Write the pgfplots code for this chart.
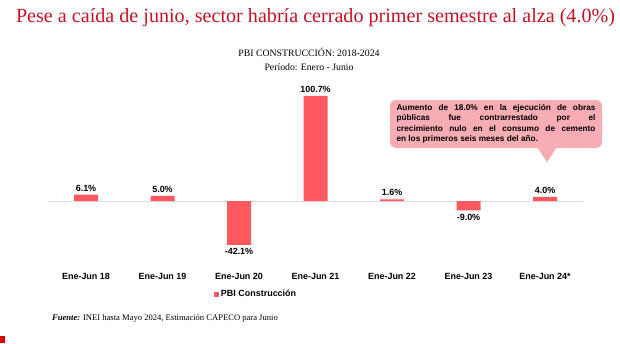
\documentclass[border=0pt]{standalone}
\usepackage{pgfplots}
\pgfplotsset{compat=1.18}
\usepackage{fontspec}
\setmainfont{Liberation Serif}
\newfontfamily\arial{Liberation Sans}
\definecolor{barred}{RGB}{255,88,94}
\definecolor{titlered}{RGB}{196,18,36}
\definecolor{callout}{RGB}{248,172,180}
\begin{document}
\begin{tikzpicture}[x=1bp,y=1bp]
\path[use as bounding box] (0,0) rectangle (620,343);
\node[titlered, font=\fontsize{20.2}{24}\selectfont] at (315.5,325) {Pese a caída de junio, sector habría cerrado primer semestre al alza (4.0\%)};
\node[font=\fontsize{9.8}{14}\selectfont, align=center] at (309,284) {PBI CONSTRUCCIÓN: 2018-2024\\Período: Enero - Junio};
\begin{axis}[
  at={(47.75bp,84.6bp)}, anchor=south west, scale only axis,
  width=535.5bp, height=172.1bp,
  xmin=-0.5, xmax=6.5, ymin=-55, ymax=110,
  axis line style={draw=none}, tick style={draw=none},
  ytick=\empty,
  xtick={0,1,2,3,4,5,6},
  xticklabels={Ene-Jun 18,Ene-Jun 19,Ene-Jun 20,Ene-Jun 21,Ene-Jun 22,Ene-Jun 23,Ene-Jun 24*},
  xticklabel style={font=\arial\bfseries\fontsize{9}{11}\selectfont, yshift=-7bp},
  extra y ticks={0}, extra y tick labels={},
  extra y tick style={grid=major, major grid style={draw=black!13, line width=0.8bp}},
  ybar, bar width=24bp, bar shift=0pt,
  point meta=explicit symbolic,
  nodes near coords,
  every node near coord/.append style={font=\arial\bfseries\fontsize{9}{11}\selectfont, text=black},
  legend style={at={(0.389,-0.207)}, anchor=center, draw=none, fill=none, font=\arial\bfseries\fontsize{9}{11}\selectfont},
  legend image code/.code={\fill[barred] (0bp,-2.5bp) rectangle (5bp,2.5bp);},
]
\addplot[fill=barred, draw=none] coordinates {(0,6.1)[6.1\%] (1,5.0)[5.0\%] (3,100.7)[100.7\%] (4,1.6)[1.6\%] (6,4.0)[4.0\%]};
\addlegendentry{PBI Construcción}
\addplot[fill=barred, draw=none, forget plot, nodes near coords align={below}] coordinates {(2,-42.1)[-42.1\%] (5,-9.0)[-9.0\%]};
\end{axis}
\fill[callout, rounded corners=6bp] (390,195) rectangle (602,243);
\fill[callout] (537,196) -- (547,181) -- (557,196) -- cycle;
\node[font=\arial\bfseries\fontsize{8.3}{10.5}\selectfont, text width=199bp, align=justify, inner sep=0pt] at (496,219) {Aumento de 18.0\% en la ejecución de obras\linebreak públicas fue contrarrestado por el\linebreak crecimiento nulo en el consumo de cemento\linebreak en los primeros seis meses del año.};
\node[anchor=west, font=\fontsize{8.6}{10}\selectfont, inner sep=0pt] at (52,25) {\textbf{\textit{Fuente:}} INEI hasta Mayo 2024, Estimación CAPECO para Junio};
\fill[red!85!black] (0,0) rectangle (5,7);
\end{tikzpicture}
\end{document}
